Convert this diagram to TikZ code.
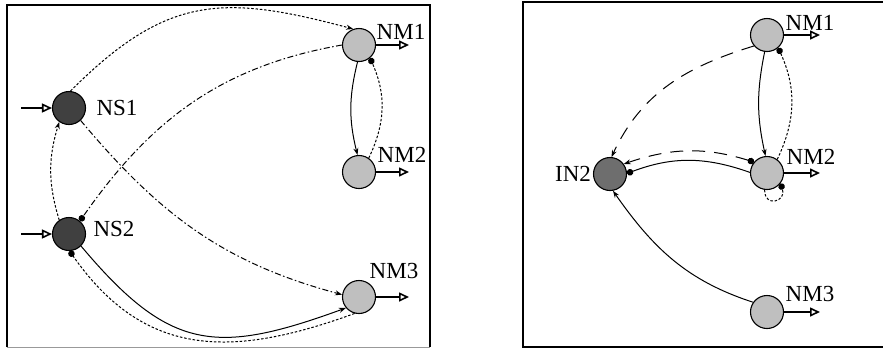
\documentclass[tikz,border=0pt]{standalone}
\usepackage{fontspec}
\setmainfont{Liberation Serif}
\usetikzlibrary{arrows.meta, positioning}

\begin{document}
\begin{tikzpicture}[x=1pt,y=1pt,on grid,
    neuron/.style={circle,draw,line width=1.1pt,minimum size=33pt,inner sep=0pt},
    sens/.style={neuron,fill=black!75},
    mot/.style={neuron,fill=black!25},
    inter/.style={neuron,fill=black!57},
    tag/.style={inner sep=0pt,font=\fontsize{23}{24}\selectfont},
    io/.style={line width=1.8pt,-{Triangle[open,length=10pt,width=9pt,line width=1.6pt]}},
    exc/.style={line width=1pt,-{Stealth[length=7pt,width=5pt]}},
    inh/.style={line width=1pt,-{Circle[length=6.5pt]}},
    fine/.style={dash pattern=on 2.5pt off 1.8pt},
    chain/.style={dash pattern=on 6pt off 2.5pt on 1.5pt off 2.5pt},
    longdash/.style={dash pattern=on 13pt off 9pt}]
    \useasboundingbox (0,0) rectangle (883,-349);
    % frames
    \draw[line width=1.6pt] (7,-347) -- (7,-5) -- (430,-5) -- (430,-347);
    \draw[black!40,line width=1pt] (7,-347) -- (430,-347);
    \draw[line width=1.6pt] (883,-2) -- (523,-2) -- (523,-347) -- (883,-347);

    % left network
    \node[sens] (ns_1) at (69,-108) {};
    \node[sens] (ns_2) [below=126pt of ns_1] {};
    \node[mot] (nm_1) at (359,-45) {};
    \node[mot] (nm_2) [below=127pt of nm_1] {};
    \node[mot] (nm_3) [below=125pt of nm_2] {};
    \node[tag] (ns_1t) [right=48pt of ns_1] {NS1};
    \node[tag] (ns_2t) [above right=5pt and 45pt of ns_2] {NS2};
    \node[tag] (nm_1t) [above right=13pt and 42pt of nm_1] {NM1};
    \node[tag] (nm_2t) [above right=17pt and 43pt of nm_2] {NM2};
    \node[tag] (nm_3t) [above right=26pt and 35pt of nm_3] {NM3};

    % right network
    \node[inter] (in_2) at (610,-174) {};
    \node[mot] (m_1) at (767,-35) {};
    \node[mot] (m_2) [below=138pt of m_1] {};
    \node[mot] (m_3) [below=139pt of m_2] {};
    \node[tag] (in_2t) [left=37pt of in_2] {IN2};
    \node[tag] (m_1t) [above right=12pt and 43pt of m_1] {NM1};
    \node[tag] (m_2t) [above right=16pt and 44pt of m_2] {NM2};
    \node[tag] (m_3t) [above right=18pt and 43pt of m_3] {NM3};

    % inputs and outputs
    \foreach \n in {ns_1,ns_2} {
      \path (\n) ++(-48,0) coordinate (\n in);
      \draw[io] (\n in) -- (\n);
    }
    \foreach \n/\len in {nm_1/50,nm_2/50,nm_3/50,m_1/53,m_2/53,m_3/53} {
      \path (\n) ++(\len,0) coordinate (\n out);
      \draw[io] (\n) -- (\n out);
    }

    \path[exc]
    (ns_1.85) edge [fine,out=45,in=165,looseness=1.2] (nm_1.110)
    (ns_1.-47) edge [chain,out=-50,in=165] (nm_3.172)
    (ns_2.125) edge [fine,bend left=17] (ns_1.235)
    (nm_1.265) edge [bend right=14] (nm_2.95)
    (ns_2.-45) edge [out=-50,in=200,looseness=1.3] (nm_3.220)
    (m_1.220) edge [longdash,out=197,in=65] (in_2.85)
    (m_1.262) edge [bend right=12] (m_2.95)
    (m_3.145) edge [out=162,in=-55] (in_2.-80);
    \path[inh]
    (nm_1.180) edge [chain,out=190,in=55] (ns_2.50)
    (nm_2.55) edge [fine,bend right=25] (nm_1.-50)
    (nm_3.255) edge [fine,out=200,in=-55,looseness=1.15] (ns_2.-88)
    (m_2.178) edge [bend right=20] (in_2.2)
    (m_2.53) edge [fine,bend right=25] (m_1.-49)
    (m_2.262) edge [fine,out=-90,in=-70,looseness=2.8] (m_2.-38);
    \path[exc,{Circle[length=6.5pt]}-{Stealth[length=7pt,width=5pt]}]
    (m_2.140) edge [longdash,bend right=18] (in_2.36);
\end{tikzpicture}
\end{document}
